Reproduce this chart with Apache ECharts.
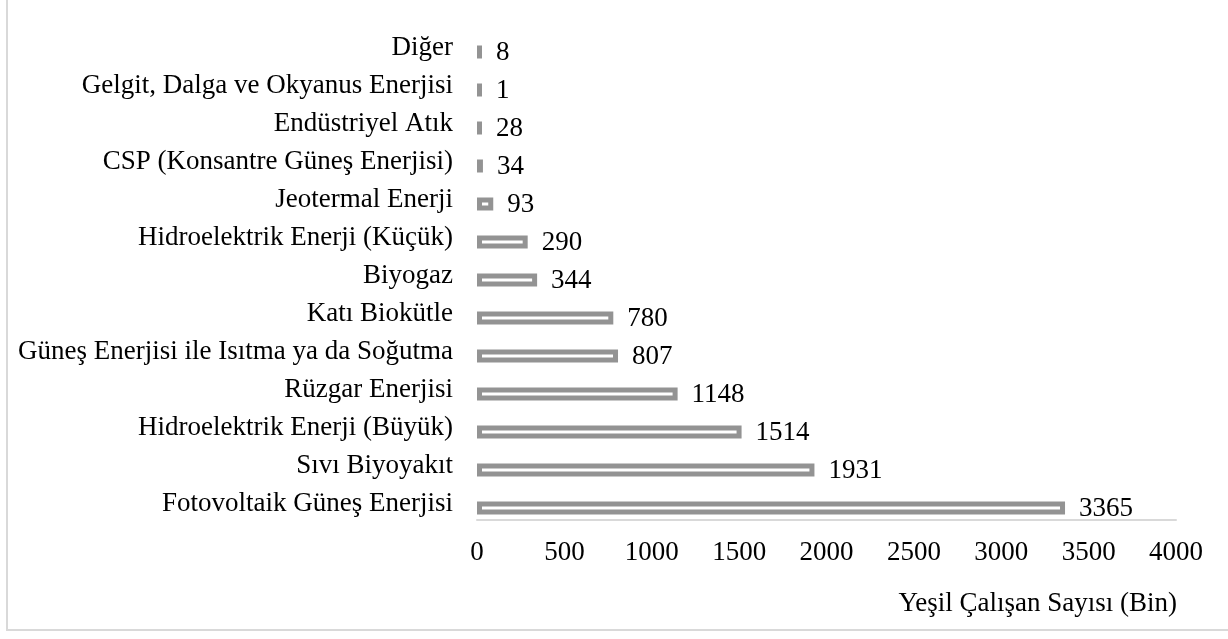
<!DOCTYPE html>
<html>
<head>
<meta charset="utf-8">
<script src="https://cdn.jsdelivr.net/npm/echarts@6/dist/echarts.min.js"></script>
<style>
  html, body { margin: 0; padding: 0; background: #fff; }
  #chart { width: 1228px; height: 639px; }
</style>
</head>
<body>
<div id="chart"></div>
<script>
// top to bottom, as in the picture
const categories = [
  "Diğer",
  "Gelgit, Dalga ve Okyanus Enerjisi",
  "Endüstriyel Atık",
  "CSP (Konsantre Güneş Enerjisi)",
  "Jeotermal Enerji",
  "Hidroelektrik Enerji (Küçük)",
  "Biyogaz",
  "Katı Biokütle",
  "Güneş Enerjisi ile Isıtma ya da Soğutma",
  "Rüzgar Enerjisi",
  "Hidroelektrik Enerji (Büyük)",
  "Sıvı Biyoyakıt",
  "Fotovoltaik Güneş Enerjisi",
];
const values = [8, 1, 28, 34, 93, 290, 344, 780, 807, 1148, 1514, 1931, 3365];
const axisName = "Yeşil Çalışan Sayısı (Bin)";

const FONT = "'Liberation Serif', 'Times New Roman', serif";
const GRAY = "#939393";

// very short bars are too short for the hollow outline: draw them solid
const barData = values.map((v) =>
  v < 50 ? { value: v, itemStyle: { color: GRAY, borderWidth: 0 } } : v
);

const chart = echarts.init(document.getElementById("chart"), null, { renderer: "canvas" });

chart.setOption({
  animation: false,
  backgroundColor: "#fff",
  title: {
    text: axisName,
    right: 51,
    top: 590,
    padding: 0,
    textStyle: { fontFamily: FONT, fontSize: 27, fontWeight: "normal", color: "#000" },
  },
  grid: { left: 477, right: 52, top: 33, bottom: 112 },
  xAxis: {
    type: "value",
    min: 0,
    max: 4000,
    interval: 500,
    offset: -7,
    splitLine: { show: false },
    axisTick: { show: false },
    axisLine: { show: true, lineStyle: { color: "#d9d9d9", width: 2 } },
    axisLabel: {
      fontFamily: FONT,
      fontSize: 27,
      color: "#000",
      margin: 19,
      formatter: (v) => String(v),
    },
  },
  yAxis: {
    type: "category",
    data: categories,
    inverse: true,
    axisLine: { show: false },
    axisTick: { show: false },
    axisLabel: {
      fontFamily: FONT,
      fontSize: 27,
      color: "#000",
      margin: 24,
      verticalAlign: "bottom",
      lineHeight: 8,
    },
  },
  series: [
    {
      type: "bar",
      data: barData,
      barWidth: 13,
      barMinHeight: 5,
      itemStyle: { color: "#fff", borderColor: GRAY, borderWidth: 5 },
      label: {
        show: true,
        position: "right",
        distance: 14,
        fontFamily: FONT,
        fontSize: 27,
        color: "#000",
        offset: [0, 1],
      },
    },
  ],
  graphic: [
    {
      type: "rect",
      silent: true,
      shape: { x: 7, y: -20, width: 1400, height: 650 },
      style: { fill: null, stroke: "#d9d9d9", lineWidth: 2 },
    },
  ],
});
</script>
</body>
</html>
